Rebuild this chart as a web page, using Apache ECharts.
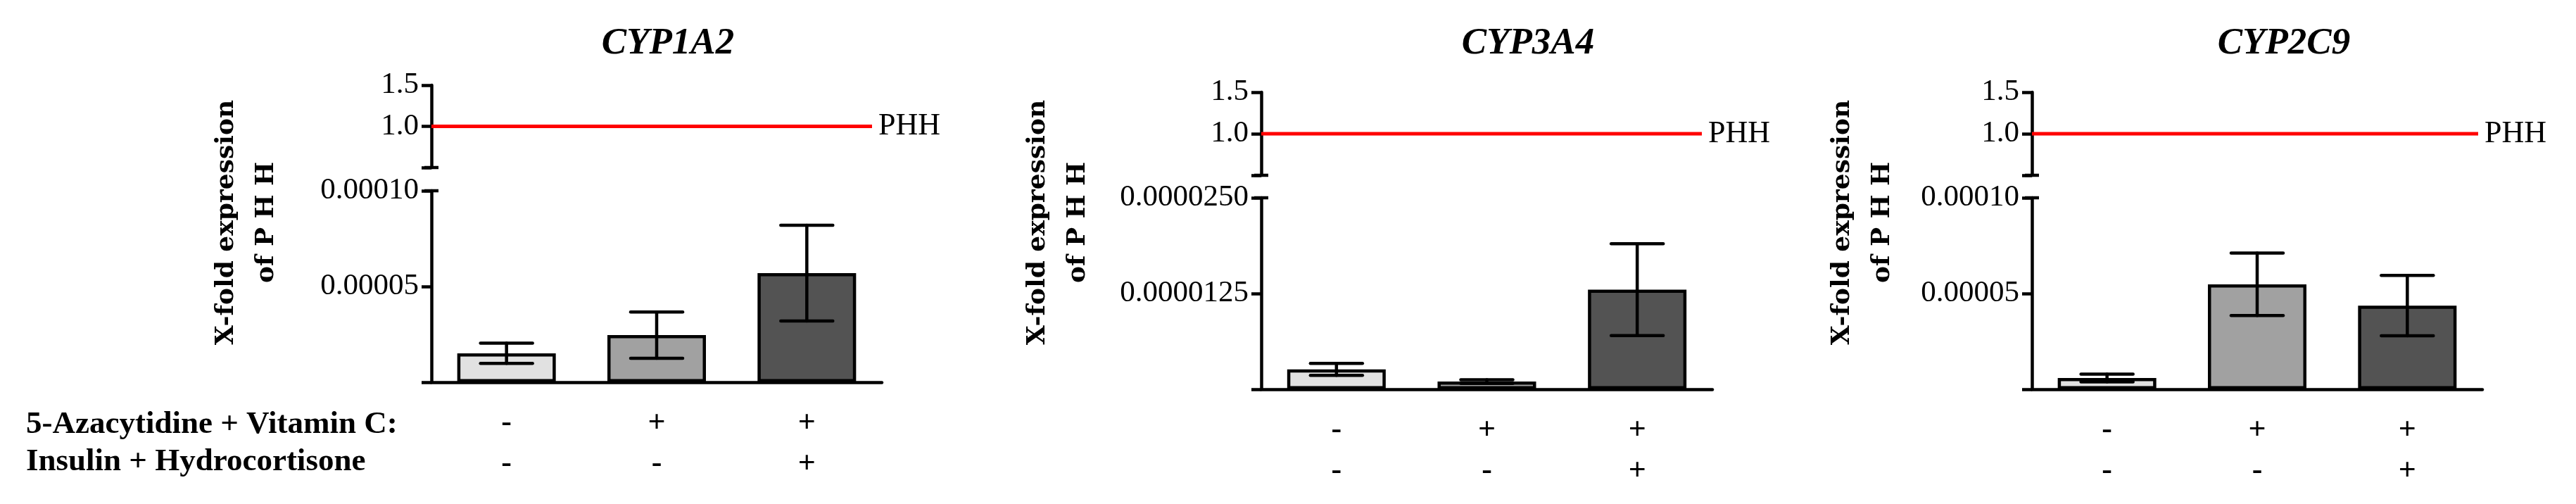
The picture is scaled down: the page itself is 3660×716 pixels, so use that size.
<!DOCTYPE html>
<html>
<head>
<meta charset="utf-8">
<script src="https://cdn.jsdelivr.net/npm/echarts@6/dist/echarts.min.js"></script>
<style>
  html, body { margin: 0; padding: 0; background: #fff; }
  #main { width: 3660px; height: 716px; }
</style>
</head>
<body>
<div id="main"></div>
<script>
// data
const genes = ['CYP1A2', 'CYP3A4', 'CYP2C9'];
const azaVitC = ['-', '+', '+'];
const insHydro = ['-', '-', '+'];
const rowNames = ['5-Azacytidine + Vitamin C:', 'Insulin + Hydrocortisone'];

const cyp1a2Mean = [0.0000151, 0.0000246, 0.0000570];
const cyp1a2Sem  = [0.0000053, 0.0000121, 0.0000250];
const cyp3a4Mean = [0.0000026, 0.0000010, 0.0000130];
const cyp3a4Sem  = [0.00000078, 0.00000024, 0.0000060];
const cyp2c9Mean = [0.0000059, 0.0000548, 0.0000437];
const cyp2c9Sem  = [0.0000020, 0.0000163, 0.0000158];

const phhLevel = 1.0;
const upperTicks = [0.5, 1.0, 1.5];
const lowerMax  = [0.00010, 0.0000250, 0.00010];
const lowerStep = [0.00005, 0.0000125, 0.00005];
const lowerDigits = [5, 7, 5];

const means = [cyp1a2Mean, cyp3a4Mean, cyp2c9Mean];
const sems = [cyp1a2Sem, cyp3a4Sem, cyp2c9Sem];
const fills = ['#e1e1e1', '#a1a1a1', '#535353'];

// layout of the three panels (pixels)
const panels = [
  {left: 613,  upTop: 121, upH: 117, upW: 626, lowTop: 271, lowH: 272, lowW: 640, titleX: 949,  yTitleX: 350},
  {left: 1792, upTop: 131, upH: 118, upW: 626, lowTop: 281, lowH: 272, lowW: 641, titleX: 2171, yTitleX: 1503},
  {left: 2887, upTop: 131, upH: 118, upW: 634, lowTop: 281, lowH: 272, lowW: 640, titleX: 3245, yTitleX: 2646}
];

const serif = 'Liberation Serif';
const lw = 4.5;
const categories = azaVitC.map((a, i) => a + '\n' + insHydro[i]);

function errorBars(params, api) {
  const i = api.value(0), m = api.value(1), e = api.value(2);
  const hi = api.coord([i, m + e]);
  const lo = api.coord([i, m - e]);
  const hw = 37;
  const st = {stroke: '#000', lineWidth: lw, lineCap: 'round'};
  return {
    type: 'group',
    children: [
      {type: 'line', shape: {x1: hi[0], y1: hi[1], x2: lo[0], y2: lo[1]}, style: st},
      {type: 'line', shape: {x1: hi[0] - hw, y1: hi[1], x2: hi[0] + hw, y2: hi[1]}, style: st},
      {type: 'line', shape: {x1: lo[0] - hw, y1: lo[1], x2: lo[0] + hw, y2: lo[1]}, style: st}
    ]
  };
}

const grid = [], xAxis = [], yAxis = [], series = [], graphic = [];

panels.forEach((p, k) => {
  // upper part: PHH reference (=1)
  grid.push({left: p.left, top: p.upTop, width: p.upW, height: p.upH});
  // lower part: bars
  grid.push({left: p.left, top: p.lowTop, width: p.lowW, height: p.lowH});
  const gu = 2 * k, gl = 2 * k + 1;

  xAxis.push({gridIndex: gu, type: 'value', min: 0, max: 1, show: false});
  xAxis.push({
    gridIndex: gl, type: 'category', data: categories,
    axisLine: {lineStyle: {color: '#000', width: lw}},
    axisTick: {alignWithLabel: true, length: 14, lineStyle: {color: '#000', width: lw}},
    axisLabel: {
      color: '#000', fontFamily: serif, fontWeight: 'bold', fontSize: 44,
      lineHeight: 58, margin: 30
    }
  });

  yAxis.push({
    gridIndex: gu, type: 'value',
    min: upperTicks[0], max: upperTicks[2], interval: upperTicks[1] - upperTicks[0],
    splitLine: {show: false},
    axisLine: {show: true, symbol: ['rect', 'none'], symbolSize: [20, lw], lineStyle: {color: '#000', width: lw}},
    axisTick: {show: true, length: 14, lineStyle: {color: '#000', width: lw}},
    axisLabel: {
      color: '#000', fontFamily: serif, fontSize: 43, margin: 18,
      formatter: v => (Math.abs(v - upperTicks[0]) < 1e-9 ? '' : v.toFixed(1))
    }
  });
  yAxis.push({
    gridIndex: gl, type: 'value',
    min: 0, max: lowerMax[k], interval: lowerStep[k],
    splitLine: {show: false},
    axisLine: {show: true, symbol: ['none', 'rect'], symbolSize: [20, lw], lineStyle: {color: '#000', width: lw}},
    axisTick: {show: true, length: 14, lineStyle: {color: '#000', width: lw}},
    axisLabel: {
      color: '#000', fontFamily: serif, fontSize: 43, margin: 18,
      formatter: v => (Math.abs(v) < 1e-12 ? '' : v.toFixed(lowerDigits[k]))
    }
  });

  series.push({
    type: 'line', xAxisIndex: gu, yAxisIndex: gu,
    data: [[0, phhLevel], [1, phhLevel]],
    symbol: 'none', silent: true,
    lineStyle: {color: '#ff0000', width: 5},
    endLabel: {
      show: true, formatter: 'PHH', distance: 9,
      color: '#000', fontFamily: serif, fontSize: 44
    }
  });
  series.push({
    type: 'bar', xAxisIndex: gl, yAxisIndex: gl,
    barWidth: 140,
    data: means[k].map((v, i) => ({value: v, itemStyle: {color: fills[i]}})),
    itemStyle: {borderColor: '#000', borderWidth: lw}
  });
  series.push({
    type: 'custom', xAxisIndex: gl, yAxisIndex: gl, z: 5,
    renderItem: errorBars,
    encode: {x: 0, y: [1, 2]},
    data: means[k].map((v, i) => [i, v, sems[k][i]])
  });

  graphic.push({
    type: 'text', x: p.titleX, y: 62,
    style: {
      text: genes[k], fill: '#000', font: 'italic bold 53px "Liberation Serif"',
      align: 'center', verticalAlign: 'middle', textAlign: 'center', textVerticalAlign: 'middle'
    }
  });
  graphic.push({
    type: 'text', x: p.yTitleX, y: 316, rotation: Math.PI / 2,
    style: {
      text: 'X-fold expression\nof P H H', fill: '#000',
      font: 'bold 36px "DejaVu Serif"', lineHeight: 57,
      align: 'center', verticalAlign: 'middle', textAlign: 'center', textVerticalAlign: 'middle'
    }
  });
});

rowNames.forEach((name, r) => {
  graphic.push({
    type: 'text', x: 37, y: [603, 656][r],
    style: {
      text: name, fill: '#000', font: 'bold 45px "Liberation Serif"',
      align: 'left', verticalAlign: 'middle', textAlign: 'left', textVerticalAlign: 'middle'
    }
  });
});

const chart = echarts.init(document.getElementById('main'));
chart.setOption({
  animation: false,
  backgroundColor: '#fff',
  grid: grid,
  xAxis: xAxis,
  yAxis: yAxis,
  series: series,
  graphic: graphic
});
</script>
</body>
</html>
